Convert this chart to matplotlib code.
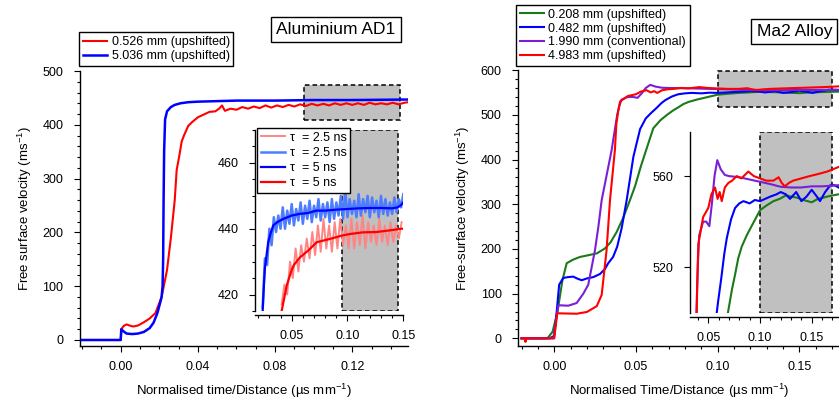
import matplotlib.pyplot as plt
from matplotlib.ticker import MultipleLocator
from matplotlib.patches import Rectangle

plt.rcParams['font.family'] = ['Liberation Sans', 'DejaVu Sans']
plt.rcParams['mathtext.default'] = 'regular'

RED = '#ff0000'
BLUE = '#0000ff'
LIGHT_RED = '#ff8585'
LIGHT_BLUE = '#4d7dff'
GREEN = '#1a7a1a'
PURPLE = '#7a1fd6'
GREY = '#c0c0c0'

# ---- Aluminium AD1 : main traces ----
al_thin_x = [-0.02, -0.01, 0.0, 0.0003, 0.0015, 0.003, 0.0045, 0.0065, 0.009, 0.012, 0.015, 0.018,
             0.0212, 0.024, 0.026, 0.028, 0.029, 0.0305, 0.0316, 0.033, 0.035, 0.037, 0.040, 0.043,
             0.046, 0.049, 0.051, 0.0525, 0.054, 0.057, 0.060, 0.063, 0.066, 0.069, 0.072, 0.075,
             0.078, 0.081, 0.084, 0.087, 0.090, 0.093, 0.096, 0.099, 0.102, 0.105, 0.108, 0.111,
             0.114, 0.117, 0.120, 0.123, 0.126, 0.129, 0.132, 0.135, 0.138, 0.141, 0.144, 0.147, 0.149]
al_thin_v = [0, 0, 0, 20, 26, 29, 27, 25, 27, 33, 40, 50,
             80, 130, 190, 260, 316, 345, 369, 382, 398, 405, 414, 419,
             424, 425, 430, 436, 426, 430, 428, 433, 430, 434, 431, 436,
             432, 436, 433, 437, 434, 438, 435, 439, 436, 439, 436, 440,
             437, 440, 437, 440, 437, 441, 438, 440, 438, 441, 438, 441, 442]

al_thick_x = [-0.02, -0.01, 0.0, 0.0003, 0.0015, 0.003, 0.006, 0.009, 0.012, 0.015, 0.017, 0.019,
              0.0205, 0.0212, 0.0217, 0.022, 0.0222, 0.0225, 0.023, 0.024, 0.026, 0.028, 0.031,
              0.035, 0.040, 0.050, 0.060, 0.080, 0.100, 0.120, 0.149]
al_thick_v = [0, 0, 0, 20, 16, 12, 11, 12, 15, 22, 32, 50,
              70, 80, 100, 150, 250, 350, 410, 425, 433, 437, 440,
              442, 443, 444, 445, 445, 446, 446, 447]

# ---- Aluminium AD1 : inset, two smoothing constants ----
in_blue5_x = [0.024, 0.025, 0.026, 0.0275, 0.029, 0.031, 0.0335, 0.037, 0.0425, 0.050, 0.057, 0.065,
              0.072, 0.080, 0.090, 0.100, 0.110, 0.120, 0.130, 0.140, 0.145, 0.148, 0.150]
in_blue5_v = [415, 422, 428, 432, 436, 438.5, 441, 442, 443, 444, 444.5, 444.8,
              445.5, 445.5, 445.8, 446, 446.2, 446.3, 446.3, 446.2, 446.5, 447.2, 448]

in_blue25_x = [0.024, 0.026, 0.028, 0.030, 0.032, 0.034, 0.036, 0.038, 0.040, 0.042, 0.044, 0.046,
               0.048, 0.050, 0.052, 0.054, 0.056, 0.058, 0.060, 0.062, 0.064, 0.066, 0.068, 0.070,
               0.072, 0.074, 0.076, 0.078, 0.080, 0.082, 0.084, 0.086, 0.088, 0.090, 0.092, 0.094,
               0.096, 0.098, 0.100, 0.102, 0.104, 0.106, 0.108, 0.110, 0.112, 0.114, 0.116, 0.118,
               0.120, 0.122, 0.124, 0.126, 0.128, 0.130, 0.132, 0.134, 0.136, 0.138, 0.140, 0.142,
               0.144, 0.146, 0.148, 0.150]
in_blue25_v = [416, 431, 429, 440, 435, 443.5, 439, 444, 440, 446.5, 440, 445.5,
               441.5, 447.5, 441, 446, 442.5, 448, 441.5, 447, 443, 448.5, 442, 447,
               443.5, 449, 442.5, 447.5, 443.5, 448, 442, 449, 443, 448, 444, 450,
               443, 451.5, 443.5, 449, 444.5, 448.5, 443.5, 450.5, 444, 449, 445, 450,
               443.5, 449.5, 445, 448.5, 443.5, 450, 444.5, 449, 444, 448, 444.5, 449.5,
               445, 449, 446.5, 450.5]

in_red5_x = [0.041, 0.0455, 0.050, 0.052, 0.0574, 0.0649, 0.0724, 0.0843, 0.0948, 0.1022,
             0.114, 0.126, 0.138, 0.148, 0.150]
in_red5_v = [415, 422.7, 427.5, 429, 431.3, 433.4, 435.9, 436.9, 437.9, 438.4,
             438.9, 439, 439.5, 440, 440]

in_red25_x = [0.041, 0.0435, 0.046, 0.0485, 0.051, 0.0535, 0.056, 0.0585, 0.061, 0.0635, 0.066,
              0.0685, 0.071, 0.0735, 0.076, 0.0785, 0.081, 0.0835, 0.086, 0.0885, 0.091, 0.0935,
              0.096, 0.0985, 0.101, 0.1035, 0.106, 0.1085, 0.111, 0.1135, 0.116, 0.1185, 0.121,
              0.1235, 0.126, 0.1285, 0.131, 0.1335, 0.136, 0.1385, 0.141, 0.1435, 0.146, 0.1485]
in_red25_v = [417, 423, 420, 430, 425, 434, 427, 435, 430, 437, 431,
              439, 432, 441, 433, 443, 434, 441, 433, 442, 434, 443,
              435, 441, 434, 443, 434, 442, 435, 444, 434, 442, 436,
              441, 435, 443, 436, 441, 435, 442, 436, 441, 437, 442]

# ---- Ma2 Alloy ----
ma_208_x = [-0.02, -0.005, -0.0037, -0.001, 0.002, 0.005, 0.0076, 0.0115, 0.0157, 0.021, 0.026,
            0.031, 0.0345, 0.0382, 0.042, 0.0463, 0.0494, 0.053, 0.057, 0.0606, 0.065, 0.069,
            0.0728, 0.076, 0.079, 0.0823, 0.0872, 0.093, 0.100, 0.106, 0.113, 0.119, 0.125,
            0.130, 0.136, 0.142, 0.150, 0.156, 0.161, 0.165, 0.170, 0.176]
ma_208_v = [0, 0, 2, 15, 60, 130, 168, 176, 182, 186, 190,
            201, 215, 238, 268, 309, 340, 385, 430, 470, 488, 500,
            510, 517, 524, 529, 534, 539, 545, 547, 549, 550, 551.5,
            551, 550.5, 549.5, 548.5, 550, 550.5, 551, 551.5, 552]

ma_482_x = [-0.02, -0.003, 0.0, 0.0015, 0.003, 0.0055, 0.0085, 0.0116, 0.0145, 0.0168, 0.020,
            0.0239, 0.028, 0.031, 0.033, 0.036, 0.0385, 0.0412, 0.0443, 0.0484, 0.0525, 0.056,
            0.0595, 0.0625, 0.0655, 0.068, 0.072, 0.0759, 0.080, 0.084, 0.090, 0.095, 0.100,
            0.105, 0.110, 0.116, 0.120, 0.125, 0.129, 0.135, 0.140, 0.145, 0.150, 0.155, 0.158,
            0.163, 0.168, 0.172, 0.176]
ma_482_v = [0, 0, 5, 60, 120, 135, 137, 138, 133, 130, 134,
            137, 144, 155, 168, 182, 205, 246, 309, 406, 468, 492,
            505, 515, 526, 533, 541, 546, 548, 549, 548, 549.5, 549,
            550, 551, 552, 553, 552, 550, 553, 549, 551, 554, 551, 549,
            553, 556, 556, 555]

ma_1990_x = [-0.02, -0.003, -0.0006, 0.0025, 0.0086, 0.0137, 0.0178, 0.0208, 0.0249, 0.027,
             0.029, 0.0351, 0.0385, 0.0398, 0.0412, 0.045, 0.048, 0.051, 0.0535, 0.056, 0.0587,
             0.062, 0.066, 0.070, 0.080, 0.090, 0.100, 0.110, 0.120, 0.130, 0.140, 0.150, 0.160,
             0.176]
ma_1990_v = [0, 0, 0, 74, 73, 79, 100, 120, 197, 250,
             309, 421, 500, 520, 534, 540, 540, 538, 548, 560, 567,
             563, 560.5, 560, 559.5, 558.5, 557.5, 556.5, 555.3, 555, 555, 555.5, 555.5,
             556]

ma_4983_x = [-0.02, -0.0178, -0.0176, -0.0174, -0.005, 0.0, 0.0018, 0.0137, 0.020, 0.026, 0.029,
             0.032, 0.0341, 0.0371, 0.038, 0.0392, 0.0403, 0.045, 0.050, 0.053, 0.0565, 0.059,
             0.061, 0.063, 0.066, 0.0694, 0.073, 0.0775, 0.082, 0.0887, 0.094, 0.100, 0.106,
             0.113, 0.118, 0.121, 0.124, 0.128, 0.132, 0.140, 0.148, 0.157, 0.165, 0.176]
ma_4983_v = [0, 0, -8, 0, 0, 0, 56, 55, 59, 72, 97,
             197, 309, 421, 480, 510, 530, 542, 546, 552, 555, 550,
             553, 549, 555, 557, 558, 560, 559, 562, 560, 559, 558,
             558, 559.5, 557, 555.5, 557, 558, 559, 560, 561, 562, 564]


def style_axis(ax, xmaj, xmin, ymaj, ymin=None):
    for side in ('top', 'right'):
        ax.spines[side].set_visible(False)
    for side in ('left', 'bottom'):
        ax.spines[side].set_linewidth(1.0)
    ax.xaxis.set_major_locator(MultipleLocator(xmaj))
    ax.xaxis.set_minor_locator(MultipleLocator(xmin))
    ax.yaxis.set_major_locator(MultipleLocator(ymaj))
    if ymin is not None:
        ax.yaxis.set_minor_locator(MultipleLocator(ymin))
    ax.tick_params(which='major', direction='out', length=4, width=0.8, labelsize=9)
    ax.tick_params(axis='x', which='major', pad=7)
    ax.tick_params(axis='y', which='major', pad=8)
    ax.tick_params(which='minor', direction='out', length=2.5, width=0.8)
    ax.xaxis.set_major_formatter(plt.FormatStrFormatter('%.2f'))


def legend_box(ax, handles, labels, x, y, fig, spacing=0.15):
    leg = ax.legend(handles, labels, loc='upper left', bbox_to_anchor=(x, y),
                    bbox_transform=fig.transFigure, borderaxespad=0, fontsize=9,
                    handlelength=1.9, handletextpad=0.4, labelspacing=spacing,
                    borderpad=0.3, fancybox=False, framealpha=1, edgecolor='black')
    leg.get_frame().set_linewidth(1.0)
    leg.set_zorder(5)
    return leg


fig = plt.figure(figsize=(8.39, 4.0), dpi=100)
W, H = 839.0, 400.0

# ---- left panel ----
ax1 = fig.add_axes([80 / W, 1 - 345.7 / H, 328 / W, (345.7 - 71) / H])
ax1.set_xlim(-0.0211, 0.1489)
ax1.set_ylim(-10.6, 500)
style_axis(ax1, 0.04, 0.01, 100, 20)
ax1.add_patch(Rectangle((0.095, 408), 0.05, 66, facecolor=GREY, edgecolor='black',
                        ls=(0, (3, 2)), lw=1.1, zorder=1))
l1, = ax1.plot(al_thin_x, al_thin_v, color=RED, lw=1.5, zorder=3)
l2, = ax1.plot(al_thick_x, al_thick_v, color=BLUE, lw=1.8, zorder=3)
ax1.set_xlabel('Normalised time/Distance (µs mm$^{-1}$)', fontsize=9.5, labelpad=6)
ax1.set_ylabel('Free surface velocity (ms$^{-1}$)', fontsize=9.5, labelpad=6)
legend_box(ax1, [l1, l2], ['0.526 mm (upshifted)', '5.036 mm (upshifted)'], 79 / W, 1 - 32.3 / H, fig)
fig.text(336 / W, 1 - 29.5 / H, 'Aluminium AD1', fontsize=12.5, ha='center', va='center',
         bbox=dict(boxstyle='square,pad=0.3', facecolor='white', edgecolor='black', lw=1.0))

# inset
ax1i = fig.add_axes([255.3 / W, 1 - 311 / H, (403.3 - 255.3) / W, (311 - 130) / H])
ax1i.set_xlim(0.0174, 0.15)
ax1i.set_ylim(415, 470)
style_axis(ax1i, 0.05, 0.01, 20, 5)
ax1i.spines['bottom'].set_position(('outward', 3))
ax1i.axvspan(0.095, 0.145, facecolor=GREY, edgecolor='black', ls=(0, (3, 2)), lw=1.1, zorder=1)
k1, = ax1i.plot(in_red25_x, in_red25_v, color=LIGHT_RED, lw=1.4, zorder=2)
k2, = ax1i.plot(in_blue25_x, in_blue25_v, color=LIGHT_BLUE, lw=1.8, zorder=2)
k3, = ax1i.plot(in_blue5_x, in_blue5_v, color=BLUE, lw=1.6, zorder=3)
k4, = ax1i.plot(in_red5_x, in_red5_v, color=RED, lw=1.6, zorder=3)
legend_box(ax1i, [k1, k2, k3, k4], ['τ  = 2.5 ns', 'τ  = 2.5 ns', 'τ  = 5 ns', 'τ  = 5 ns'],
           257 / W, 1 - 128 / H, fig, spacing=0.25)

# ---- right panel ----
ax2 = fig.add_axes([518.3 / W, 1 - 345.7 / H, (W - 518.3) / W, (345.7 - 70.1) / H])
ax2.set_xlim(-0.022, 0.1742)
ax2.set_ylim(-16.5, 600)
style_axis(ax2, 0.05, 0.01, 100, 20)
ax2.add_patch(Rectangle((0.10, 517), 0.07, 80, facecolor=GREY, edgecolor='black',
                        ls=(0, (3, 2)), lw=1.1, zorder=1))
m1, = ax2.plot(ma_208_x, ma_208_v, color=GREEN, lw=1.5, zorder=3)
m2, = ax2.plot(ma_482_x, ma_482_v, color=BLUE, lw=1.5, zorder=3)
m3, = ax2.plot(ma_1990_x, ma_1990_v, color=PURPLE, lw=1.5, zorder=3)
m4, = ax2.plot(ma_4983_x, ma_4983_v, color=RED, lw=1.5, zorder=3)
ax2.set_xlabel('Normalised Time/Distance (µs mm$^{-1}$)', fontsize=9.5, labelpad=6)
ax2.set_ylabel('Free-surface velocity (ms$^{-1}$)', fontsize=9.5, labelpad=6)
legend_box(ax2, [m1, m2, m3, m4],
           ['0.208 mm (upshifted)', '0.482 mm (upshifted)', '1.990 mm (conventional)',
            '4.983 mm (upshifted)'], 516 / W, 1 - 5 / H, fig)
fig.text(756.7 / W, 1 - 31.6 / H, 'Ma2 Alloy', fontsize=12.5, ha='left', va='center',
         bbox=dict(boxstyle='square,pad=0.3', facecolor='white', edgecolor='black', lw=1.0))

# inset
ax2i = fig.add_axes([690 / W, 1 - 312.7 / H, (W - 690) / W, (312.7 - 131.7) / H])
ax2i.set_xlim(0.0323, 0.1764)
ax2i.set_ylim(500, 579.5)
style_axis(ax2i, 0.05, 0.01, 40)
ax2i.spines['bottom'].set_position(('outward', 3))
ax2i.axvspan(0.10, 0.17, facecolor=GREY, edgecolor='black', ls=(0, (3, 2)), lw=1.1, zorder=1)
ax2i.plot(ma_208_x, ma_208_v, color=GREEN, lw=1.5, zorder=3)
ax2i.plot(ma_482_x, ma_482_v, color=BLUE, lw=1.5, zorder=3)
ax2i.plot(ma_1990_x, ma_1990_v, color=PURPLE, lw=1.5, zorder=3)
ax2i.plot(ma_4983_x, ma_4983_v, color=RED, lw=1.5, zorder=3)

fig.savefig('out.png', dpi=100)
